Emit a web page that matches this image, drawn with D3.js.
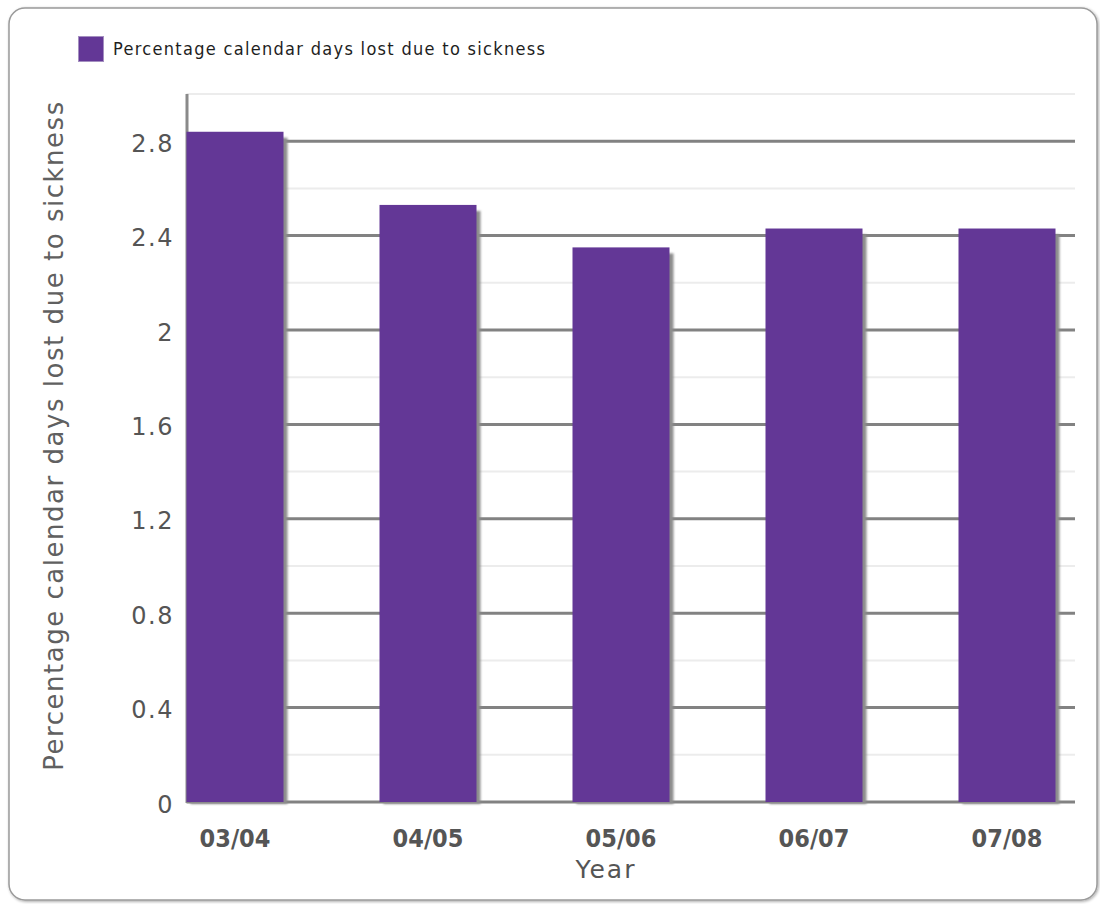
<!DOCTYPE html>
<html>
<head>
<meta charset="utf-8">
<script src="https://cdn.jsdelivr.net/npm/d3@7"></script>
<style>
  html, body { margin: 0; padding: 0; background: #ffffff; }
  svg { display: block; }
</style>
</head>
<body>
<svg id="chart" width="1100" height="904"></svg>
<script>
// ---- data ----
const categories = ["03/04", "04/05", "05/06", "06/07", "07/08"];
const values = [2.84, 2.53, 2.35, 2.43, 2.43];
const majorTicks = [0, 0.4, 0.8, 1.2, 1.6, 2.0, 2.4, 2.8];
const minorTicks = [0.2, 0.6, 1.0, 1.4, 1.8, 2.2, 2.6, 3.0];
const seriesName = "Percentage calendar days lost due to sickness";
const xTitle = "Year";
const yTitle = "Percentage calendar days lost due to sickness";

// ---- layout ----
const svg = d3.select("#chart");
const plotLeft = 186.5, plotRight = 1075, plotTop = 94, plotBottom = 802;
const barColor = "#633796";

const defs = svg.append("defs");
const fShadow = defs.append("filter").attr("id", "soft")
  .attr("x", "-10%").attr("y", "-10%").attr("width", "130%").attr("height", "130%");
fShadow.append("feGaussianBlur").attr("stdDeviation", 1.3);

const fFrame = defs.append("filter").attr("id", "frameShadow")
  .attr("x", "-5%").attr("y", "-5%").attr("width", "110%").attr("height", "110%");
fFrame.append("feGaussianBlur").attr("in", "SourceAlpha").attr("stdDeviation", 1.5).attr("result", "b");
fFrame.append("feOffset").attr("in", "b").attr("dx", 1).attr("dy", 1).attr("result", "o");
fFrame.append("feComponentTransfer").attr("in", "o").attr("result", "o2")
  .append("feFuncA").attr("type", "linear").attr("slope", 0.35);
const m = fFrame.append("feMerge");
m.append("feMergeNode").attr("in", "o2");
m.append("feMergeNode").attr("in", "SourceGraphic");

// frame
svg.append("rect")
  .attr("x", 9).attr("y", 8).attr("width", 1088).attr("height", 892)
  .attr("rx", 16).attr("ry", 16)
  .attr("fill", "#ffffff").attr("stroke", "#9a9a9a").attr("stroke-width", 1.5)
  .attr("filter", "url(#frameShadow)");

// scales
const y = d3.scaleLinear().domain([0, 3.0]).range([plotBottom, plotTop]);
const x = d3.scaleBand().domain(categories)
  .range([plotLeft, plotLeft + 4 * 193 + 97])
  .paddingInner(96 / 193).paddingOuter(0);

// minor gridlines
svg.append("g").selectAll("line").data(minorTicks).join("line")
  .attr("x1", plotLeft).attr("x2", plotRight)
  .attr("y1", d => y(d)).attr("y2", d => y(d))
  .attr("stroke", "#ececec").attr("stroke-width", 2);

// major gridlines with shadow
const gMaj = svg.append("g");
gMaj.selectAll("line.sh").data(majorTicks).join("line").attr("class", "sh")
  .attr("x1", plotLeft).attr("x2", plotRight)
  .attr("y1", d => y(d) + 2.5).attr("y2", d => y(d) + 2.5)
  .attr("stroke", "#bdbdbd").attr("stroke-width", 2.5).attr("filter", "url(#soft)");
gMaj.selectAll("line.mj").data(majorTicks).join("line").attr("class", "mj")
  .attr("x1", plotLeft).attr("x2", plotRight)
  .attr("y1", d => y(d)).attr("y2", d => y(d))
  .attr("stroke", "#828282").attr("stroke-width", 3);

// y axis line
svg.append("line")
  .attr("x1", plotLeft + 0.5).attr("x2", plotLeft + 0.5)
  .attr("y1", plotTop).attr("y2", plotBottom + 1)
  .attr("stroke", "#8a8a8a").attr("stroke-width", 3);

// bar shadows
svg.append("g").selectAll("rect").data(values).join("rect")
  .attr("x", (d, i) => x(categories[i]) + 4)
  .attr("y", d => y(d) + 6)
  .attr("width", x.bandwidth())
  .attr("height", d => plotBottom - y(d) - 4)
  .attr("fill", "#8c8c8c").attr("filter", "url(#soft)");

// bars
svg.append("g").selectAll("rect").data(values).join("rect")
  .attr("x", (d, i) => x(categories[i]))
  .attr("y", d => y(d))
  .attr("width", x.bandwidth())
  .attr("height", d => plotBottom - y(d))
  .attr("fill", barColor);

// y axis tick labels via d3 axis
const yAxis = d3.axisLeft(y).tickValues(majorTicks)
  .tickFormat(d => String(+d.toFixed(1))).tickSize(0).tickPadding(0);
const gy = svg.append("g").attr("transform", `translate(${174},0)`).call(yAxis);
gy.select(".domain").remove();
gy.selectAll("text")
  .attr("font-family", "DejaVu Sans, Verdana, sans-serif")
  .attr("font-size", 24).attr("fill", "#555555")
  .attr("letter-spacing", 1.5)
  .attr("dy", "0.42em");

// x axis tick labels via d3 axis
const xAxis = d3.axisBottom(x).tickSize(0).tickPadding(0);
const gx = svg.append("g").attr("transform", `translate(0,${plotBottom})`).call(xAxis);
gx.select(".domain").remove();
gx.selectAll("text")
  .attr("font-family", "DejaVu Sans Condensed, DejaVu Sans, sans-serif")
  .attr("font-weight", "bold")
  .attr("font-size", 25).attr("fill", "#555555")
  .attr("y", 0).attr("dy", 0)
  .attr("transform", "translate(0,45)");

// helper to fit text to width via letter-spacing
function fit(sel, target) {
  const n = sel.text().length;
  const len = sel.node().getComputedTextLength();
  sel.attr("letter-spacing", (target - len) / (n - 1));
}

// x title
svg.append("text")
  .attr("x", 606).attr("y", 878)
  .attr("text-anchor", "middle")
  .attr("font-family", "DejaVu Sans, sans-serif")
  .attr("font-size", 25).attr("fill", "#555555")
  .attr("letter-spacing", 2)
  .text(xTitle);

// y title
const yt = svg.append("text")
  .attr("transform", "translate(63,435.5) rotate(-90)")
  .attr("text-anchor", "middle")
  .attr("font-family", "DejaVu Sans, sans-serif")
  .attr("font-size", 26).attr("fill", "#606060")
  .text(yTitle);
fit(yt, 669);

// legend
svg.append("rect")
  .attr("x", 78.5).attr("y", 36.5).attr("width", 25).attr("height", 25)
  .attr("fill", barColor).attr("stroke", "#a48fc0").attr("stroke-width", 1);
const lt = svg.append("text")
  .attr("x", 113).attr("y", 55)
  .attr("font-family", "DejaVu Sans Condensed, DejaVu Sans, sans-serif")
  .attr("font-size", 18).attr("fill", "#1e1e1e")
  .text(seriesName);
fit(lt, 432);
</script>
</body>
</html>
